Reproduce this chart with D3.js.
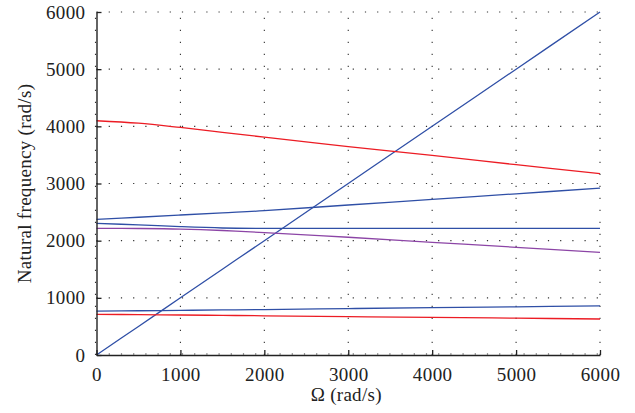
<!DOCTYPE html>
<html>
<head>
<meta charset="utf-8">
<script src="https://cdn.jsdelivr.net/npm/d3@7"></script>
<style>
  html, body { margin: 0; padding: 0; background: #fff; }
  svg { display: block; }
  text { font-family: "Liberation Serif", "DejaVu Serif", serif; fill: #222; }
</style>
</head>
<body>
<svg id="chart" width="635" height="413"></svg>
<script>
// ---- data ----
const omega        = [0, 500, 1000, 1500, 2000, 3000, 4000, 5000, 6000];
const rotorLine    = [0, 500, 1000, 1500, 2000, 3000, 4000, 5000, 6000];
const redUpper     = [4098, 4055, 3980, 3896, 3810, 3644, 3493, 3329, 3171];
const blueUpper    = [2373, 2410, 2449, 2487, 2524, 2624, 2722, 2820, 2918];
const blueMiddle   = [2303, 2276, 2245, 2222, 2216, 2216, 2216, 2216, 2216];
const purpleMiddle = [2216, 2213, 2203, 2178, 2140, 2060, 1971, 1884, 1796];
const blueLower    = [768, 774, 781, 788, 795, 812, 828, 843, 858];
const redLower     = [712, 706, 700, 693, 686, 671, 658, 644, 630];
const xTicks = [0, 1000, 2000, 3000, 4000, 5000, 6000];
const yTicks = [0, 1000, 2000, 3000, 4000, 5000, 6000];

const series = [
  { values: rotorLine,    color: "#2f4fa6" },
  { values: redUpper,     color: "#ec1c24" },
  { values: blueUpper,    color: "#2f4fa6" },
  { values: blueMiddle,   color: "#2f4fa6" },
  { values: purpleMiddle, color: "#8c45a6" },
  { values: blueLower,    color: "#2f4fa6" },
  { values: redLower,     color: "#ec1c24" }
];

// ---- layout ----
const svg = d3.select("#chart");
const m = { left: 96.5, right: 35, top: 12, bottom: 58 };
const W = 635, H = 413;
const x = d3.scaleLinear().domain([0, 6000]).range([m.left, W - m.right]);
const y = d3.scaleLinear().domain([0, 6000]).range([H - m.bottom, m.top]);

// grid (dotted)
const grid = svg.append("g");
grid.selectAll("line.v").data(xTicks).enter().append("line")
  .attr("x1", d => d === 0 ? x(d) - 1 : x(d)).attr("x2", d => d === 0 ? x(d) - 1 : x(d))
  .attr("y1", y(0)).attr("y2", y(6000))
  .attr("stroke", "#333").attr("stroke-width", 1.1)
  .attr("stroke-dasharray", "1.2,10.8");
grid.selectAll("line.h").data(yTicks).enter().append("line")
  .attr("y1", d => d === 0 ? y(d) - 1 : y(d)).attr("y2", d => d === 0 ? y(d) - 1 : y(d))
  .attr("x1", x(0)).attr("x2", x(6000))
  .attr("stroke", "#333").attr("stroke-width", 1.1)
  .attr("stroke-dasharray", "1.2,11");

// lines
const line = d3.line()
  .x((d, i) => x(omega[i]))
  .y(d => y(d))
  .curve(d3.curveCatmullRom.alpha(0.5));
svg.append("g").selectAll("path").data(series).enter().append("path")
  .attr("d", d => line(d.values))
  .attr("fill", "none")
  .attr("stroke", d => d.color)
  .attr("stroke-width", 1.3);

// axes
const xAxis = d3.axisBottom(x).tickValues(xTicks).tickFormat(d3.format("d"))
  .tickSizeInner(-5).tickSizeOuter(0).tickPadding(13);
const yAxis = d3.axisLeft(y).tickValues(yTicks).tickFormat(d3.format("d"))
  .tickSizeInner(-5).tickSizeOuter(0).tickPadding(13);

const gx = svg.append("g").attr("transform", `translate(0,${y(0)})`).call(xAxis);
const gy = svg.append("g").attr("transform", `translate(${x(0)},0)`).call(yAxis);
[gx, gy].forEach(g => {
  g.select(".domain").attr("stroke", "#222").attr("stroke-width", 1.4);
  g.selectAll(".tick line").attr("stroke", "#222").attr("stroke-width", 1.3);
  g.selectAll(".tick text").attr("font-family", "Liberation Serif, serif")
    .attr("font-size", 19).attr("letter-spacing", "0.4").attr("fill", "#222");
});
gy.selectAll(".tick text").attr("dx", "2");

// titles
svg.append("text")
  .attr("x", x(3000) - 2).attr("y", 401)
  .attr("text-anchor", "middle")
  .attr("font-size", 19)
  .attr("letter-spacing", "0.3")
  .text("Ω (rad/s)");
svg.append("text")
  .attr("transform", `translate(31,${(y(0) + y(6000)) / 2}) rotate(-90)`)
  .attr("text-anchor", "middle")
  .attr("font-size", 19)
  .attr("letter-spacing", "0.3")
  .text("Natural frequency (rad/s)");
</script>
</body>
</html>
